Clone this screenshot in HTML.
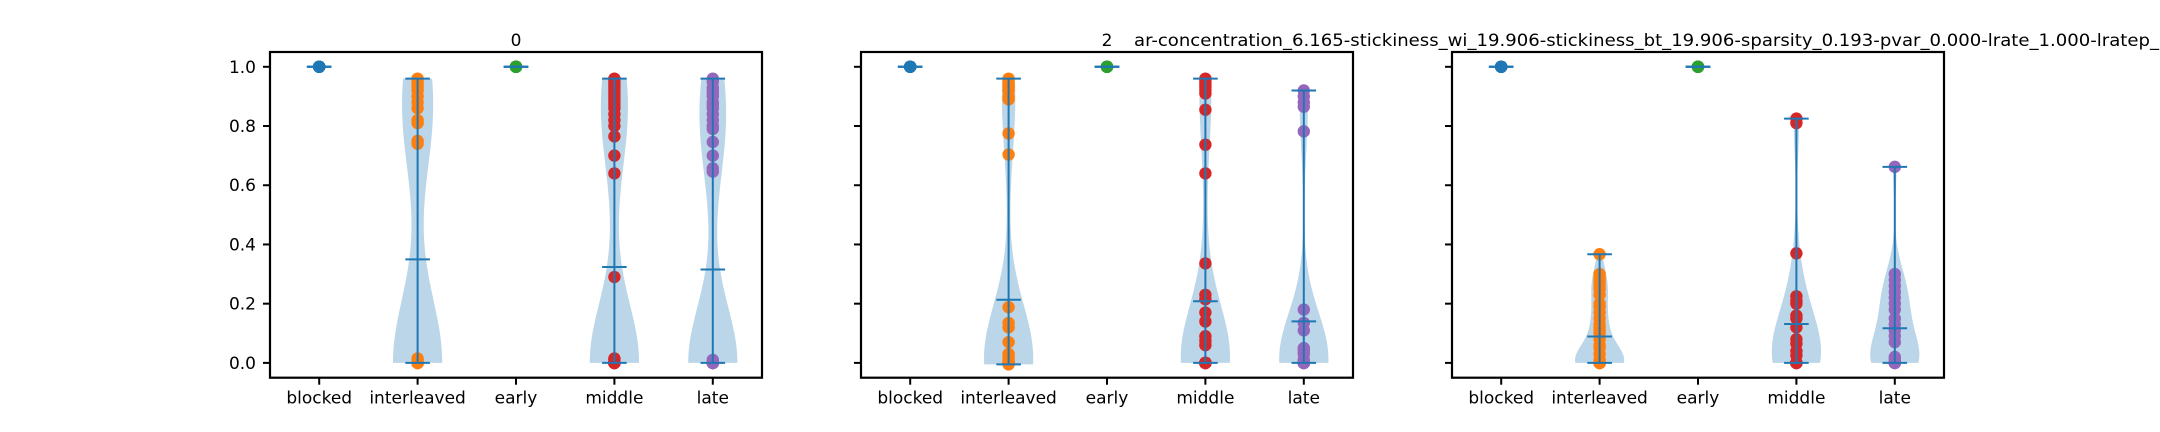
<!DOCTYPE html>
<html><head><meta charset="utf-8">
<style>
html,body{margin:0;padding:0;background:#fff;width:2160px;height:432px;overflow:hidden}
svg{display:block;font-family:"DejaVu Sans","Liberation Sans",sans-serif}
</style></head>
<body>
<svg id="fig" width="2160" height="432" viewBox="0 0 2160 432" xmlns="http://www.w3.org/2000/svg">
<text x="516" y="46" font-size="17" text-anchor="middle" fill="#000">0</text>
<text x="1107" y="46" font-size="17" text-anchor="middle" fill="#000">2</text>
<text x="1134" y="46" font-size="17" fill="#000" textLength="1025" lengthAdjust="spacingAndGlyphs">ar-concentration_6.165-stickiness_wi_19.906-stickiness_bt_19.906-sparsity_0.193-pvar_0.000-lrate_1.000-lratep_</text>
</svg>
<script>
const categories = ["blocked","interleaved","early","middle","late"];
const yTicks = [0.0,0.2,0.4,0.6,0.8,1.0];
const yTickLabels = ["0.0","0.2","0.4","0.6","0.8","1.0"];
const ones = [1,1,1,1,1,1,1,1,1,1];
function zeros(n){const a=[];for(let i=0;i<n;i++)a.push(0.0);return a;}
const p0Blocked = ones;
const p0Interleaved = [0.96,0.95,0.94,0.93,0.92,0.90,0.88,0.86,0.82,0.81,0.75,0.74,0.015,0.01].concat(zeros(16));
const p0Early = ones;
const p0Middle = [0.96,0.95,0.94,0.93,0.92,0.91,0.90,0.89,0.88,0.87,0.86,0.84,0.82,0.80,0.765,0.70,0.64,0.29,0.015,0.01].concat(zeros(26));
const p0Late = [0.96,0.95,0.93,0.92,0.91,0.90,0.88,0.87,0.86,0.84,0.82,0.80,0.79,0.746,0.70,0.657,0.646,0.01].concat(zeros(27));
const p1Blocked = ones;
const p1Interleaved = [0.96,0.95,0.94,0.93,0.92,0.90,0.89,0.775,0.704,0.188,0.135,0.12,0.07,0.03,0.02,0.01,-0.005].concat(zeros(23));
const p1Early = ones;
const p1Middle = [0.96,0.95,0.94,0.93,0.92,0.91,0.855,0.737,0.64,0.336,0.23,0.215,0.17,0.14,0.09,0.075,0.06].concat(zeros(27));
const p1Late = [0.92,0.90,0.88,0.865,0.782,0.18,0.135,0.11,0.05,0.04,0.03,0.01].concat(zeros(23));
const p2Blocked = ones;
const p2Interleaved = [0.367,0.30,0.29,0.28,0.27,0.26,0.25,0.23,0.20,0.19,0.17,0.15,0.13,0.12,0.11,0.10,0.08,0.06,0.05,0.03,0.01].concat(zeros(20));
const p2Early = ones;
const p2Middle = [0.825,0.81,0.37,0.225,0.21,0.20,0.16,0.15,0.12,0.08,0.065,0.04,0.025].concat(zeros(12));
const p2Late = [0.662,0.30,0.28,0.26,0.24,0.22,0.20,0.18,0.15,0.13,0.11,0.09,0.07,0.02,0.01].concat(zeros(10));
const panels = [
  [p0Blocked,p0Interleaved,p0Early,p0Middle,p0Late],
  [p1Blocked,p1Interleaved,p1Early,p1Middle,p1Late],
  [p2Blocked,p2Interleaved,p2Early,p2Middle,p2Late]
];
const colors = ["#1f77b4","#ff7f0e","#2ca02c","#d62728","#9467bd"];
const NS="http://www.w3.org/2000/svg";
const svg=document.getElementById('fig');
const axLefts=[270,861,1452], axW=492, axTop=52, axBot=377.7;
const yMin=-0.05,yMax=1.05;
function yS(v){return axBot-(v-yMin)/(yMax-yMin)*(axBot-axTop);}
function mk(tag,attrs,parent){const e=document.createElementNS(NS,tag);for(const k in attrs)e.setAttribute(k,attrs[k]);(parent||svg).appendChild(e);return e;}
panels.forEach((data,pi)=>{
  const L=axLefts[pi];
  const xS=c=>L+(c+1-0.5)/5*axW;
  const unit=axW/5;
  const g=mk('g',{});
  
  
  data.forEach((vals,ci)=>{
    const cx=xS(ci);
    const n=vals.length;
    const mean=vals.reduce((a,b)=>a+b,0)/n;
    const mn=Math.min(...vals), mx=Math.max(...vals);
    const sd=Math.sqrt(vals.reduce((a,b)=>a+(b-mean)*(b-mean),0)/(n-1));
    if(sd>1e-9){
      const bw=sd*Math.pow(n,-0.2);
      const pts=[],dens=[];
      for(let i=0;i<100;i++){const y=mn+(mx-mn)*i/99;let d=0;for(const v of vals){const z=(y-v)/bw;d+=Math.exp(-0.5*z*z);}pts.push(y);dens.push(d);}
      const dm=Math.max(...dens);
      let path='';
      for(let i=0;i<100;i++){path+=(i?'L':'M')+(cx+dens[i]/dm*0.25*unit).toFixed(2)+','+yS(pts[i]).toFixed(2);}
      for(let i=99;i>=0;i--){path+='L'+(cx-dens[i]/dm*0.25*unit).toFixed(2)+','+yS(pts[i]).toFixed(2);}
      const body=mk('path',{d:path+'Z',fill:'#1f77b4','fill-opacity':'0.3',stroke:'none'},g);
      
      
    }
    vals.forEach(v=>{
      const d=mk('circle',{cx:cx.toFixed(2),cy:yS(v).toFixed(2),r:6.2,fill:colors[ci]},g);
      
      
    });
    const hw=0.125*unit;
    const vl=mk('line',{x1:cx,x2:cx,y1:yS(mn),y2:yS(mx),stroke:'#1f77b4','stroke-width':2},g);
    
    
    [mn,mx,mean].forEach((v,k)=>{
      const l=mk('line',{x1:cx-hw,x2:cx+hw,y1:yS(v),y2:yS(v),stroke:'#1f77b4','stroke-width':2},g);
      
      
    });
    const t=mk('line',{x1:cx,x2:cx,y1:axBot,y2:axBot+7,stroke:'#000','stroke-width':2},g);
    
    
    const tl=mk('text',{x:cx,y:axBot+26,'font-size':17,'text-anchor':'middle',fill:'#000'},g);
    tl.textContent=categories[ci];
    
    
  });
  yTicks.forEach((v,i)=>{
    const t=mk('line',{x1:L-7,x2:L,y1:yS(v),y2:yS(v),stroke:'#000','stroke-width':2},g);
    
    
    if(pi===0){
      const tl=mk('text',{x:L-14,y:yS(v)+6,'font-size':17,'text-anchor':'end',fill:'#000'},g);
      tl.textContent=yTickLabels[i];
      
      
    }
  });
  const fr=mk('rect',{x:L,y:axTop,width:axW,height:axBot-axTop,fill:'none',stroke:'#000','stroke-width':2.2},g);
  
  
});
</script>
</body></html>
